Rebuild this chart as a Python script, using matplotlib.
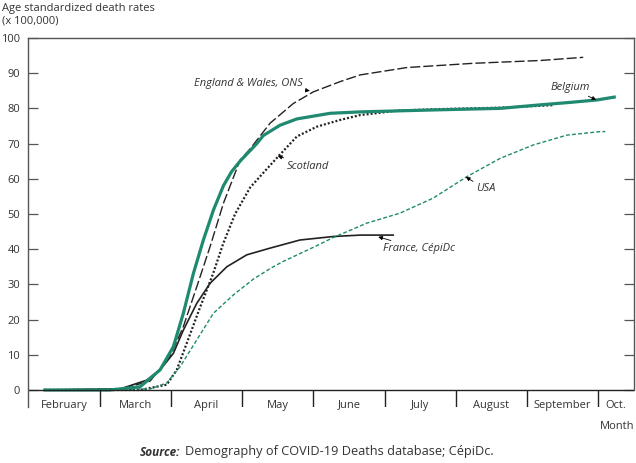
import matplotlib
matplotlib.use('Agg')
import matplotlib.pyplot as plt

plt.rcParams['font.family'] = ['Open Sans', 'DejaVu Sans']

# x in months since 1 February (0 = Feb 1, 8 = Oct 1)
months = ['February', 'March', 'April', 'May', 'June', 'July', 'August', 'September', 'Oct.']
yticks = [0, 10, 20, 30, 40, 50, 60, 70, 80, 90, 100]

belgium_x = [0.23, 1.14, 1.566, 1.847, 2.034, 2.174, 2.315, 2.455, 2.596, 2.736, 2.85, 2.970,
             3.205, 3.298, 3.53, 3.767, 4.235, 4.656, 5.211, 5.779, 6.622, 7.184, 7.605, 7.985,
             8.223]
belgium_y = [0, 0, 0.9, 5.7, 12.3, 21.8, 33.1, 42.6, 51.1, 58.0, 62.0, 65.0,
             70.0, 72.3, 75.2, 77.0, 78.6, 79.0, 79.3, 79.6, 80.0, 81.0, 81.7, 82.4,
             83.2]

ew_x = [0.23, 1.29, 1.706, 1.988, 2.174, 2.362, 2.549, 2.736, 2.970, 3.111, 3.392, 3.719,
        4.0, 4.375, 4.656, 5.312, 6.243, 7.184, 7.788]
ew_y = [0, 0.3, 2.5, 9.5, 18, 29.3, 40.7, 53, 65.3, 68.5, 75.8, 81.4,
        84.7, 87.6, 89.5, 91.6, 92.8, 93.6, 94.5]

scot_x = [0.23, 1.566, 1.941, 2.081, 2.222, 2.409, 2.591, 2.732, 2.900, 3.111, 3.346, 3.504,
          3.767, 4.048, 4.375, 4.656, 5.211, 5.779, 6.622, 7.367]
scot_y = [0, 0, 1.5, 5.7, 13.3, 23.5, 33, 41.5, 50.0, 57.5, 62.8, 66.3,
          72, 74.8, 76.7, 78.1, 79.4, 79.8, 80.2, 80.9]

france_x = [0.23, 1.29, 1.66, 1.847, 2.034, 2.174, 2.362, 2.549, 2.784, 3.065, 3.392, 3.81,
            4.28, 4.66, 5.12]
france_y = [0, 0.3, 2.8, 5.7, 10.4, 17, 24.6, 30.3, 35, 38.4, 40.3, 42.6,
            43.6, 44, 44]

usa_x = [0.23, 1.71, 1.941, 2.128, 2.362, 2.596, 2.876, 3.157, 3.392, 3.574, 4.048, 4.277,
         4.750, 5.211, 5.681, 6.154, 6.622, 7.086, 7.559, 8.027, 8.097]
usa_y = [0, 0.3, 2, 6.6, 14.2, 21.8, 27, 31.5, 34.5, 36.5, 41, 43.3,
         47.4, 50.2, 54.5, 60.6, 65.8, 69.6, 72.4, 73.4, 73.4]

green = '#1f8a6f'
grey = '#333333'

fig = plt.figure(figsize=(6.36, 4.63), dpi=100)
ax = fig.add_axes([0.0448, 0.121, 0.952, 0.797])
ymin = -4.83
ax.set_xlim(0, 8.5)
ax.set_ylim(ymin, 100)

ax.plot(ew_x, ew_y, color='#222222', lw=1.0, dashes=(7.2, 2.2))
ax.plot(scot_x, scot_y, color='#222222', lw=1.6, dashes=(0.9, 0.9))
ax.plot(france_x, france_y, color='#222222', lw=1.2)
ax.plot(usa_x, usa_y, color=green, lw=1.0, dashes=(2.8, 1.6))
ax.plot(belgium_x, belgium_y, color=green, lw=2.3)

# axes frame
for s in ['top', 'left', 'right']:
    ax.spines[s].set_color('#555555')
    ax.spines[s].set_linewidth(1.0)
ax.spines['bottom'].set_visible(False)
ax.spines['right'].set_bounds(0, 100)
ax.axhline(0, color='#222222', lw=1.0)
ax.vlines(range(1, 9), ymin, 0, color='#222222', lw=1.0)

ax.set_yticks(yticks)
ax.set_yticklabels([str(v) for v in yticks], fontsize=8, color=grey)
ax.tick_params(axis='y', direction='in', length=7, width=0.9, color='#555555', pad=6,
               right=True)
ax.set_xticks([])

centers = [i + 0.5 for i in range(8)] + [8.25]
for c, m in zip(centers, months):
    ax.text(c, -4.3, m, ha='center', va='center', fontsize=8, color=grey, clip_on=False)
ax.text(8.5, -10.4, 'Month', ha='right', va='center', fontsize=8, color=grey, clip_on=False)

arrow = dict(arrowstyle='-|>', color='black', lw=0.6, mutation_scale=6, shrinkA=0, shrinkB=0)
lab = dict(fontsize=8, style='italic', color=grey, va='center')
ax.annotate('England & Wales, ONS', xy=(3.95, 85.0), xytext=(3.85, 87.2), ha='right',
            arrowprops=arrow, **lab)
ax.annotate('Scotland', xy=(3.50, 66.5), xytext=(3.62, 63.6), ha='left',
            arrowprops=arrow, **lab)
ax.annotate('France, CépiDc', xy=(4.91, 43.5), xytext=(4.98, 40.1), ha='left',
            arrowprops=arrow, **lab)
ax.annotate('USA', xy=(6.14, 60.5), xytext=(6.28, 57.1), ha='left',
            arrowprops=arrow, **lab)
ax.annotate('Belgium', xy=(7.97, 82.4), xytext=(7.89, 85.8), ha='right',
            arrowprops=arrow, **lab)

fig.text(2 / 636, 1 - 9 / 463, 'Age standardized death rates', fontsize=8, color=grey,
         ha='left', va='center')
fig.text(2 / 636, 1 - 21 / 463, '(x 100,000)', fontsize=8, color=grey, ha='left', va='center')

src = fig.text(140 / 636, 1 - 452 / 463, 'Source:', fontsize=8.5, style='italic',
               weight='bold', color=grey, ha='left', va='center')
fig.texts.append(matplotlib.text.Annotation(
    'Demography of COVID-19 Deaths database; CépiDc.', xy=(1, 0.5), xycoords=src,
    xytext=(3, 0), textcoords='offset points', fontsize=9.2, color=grey,
    ha='left', va='center'))
fig.texts[-1].set_figure(fig)

fig.savefig('out.png', dpi=100)
